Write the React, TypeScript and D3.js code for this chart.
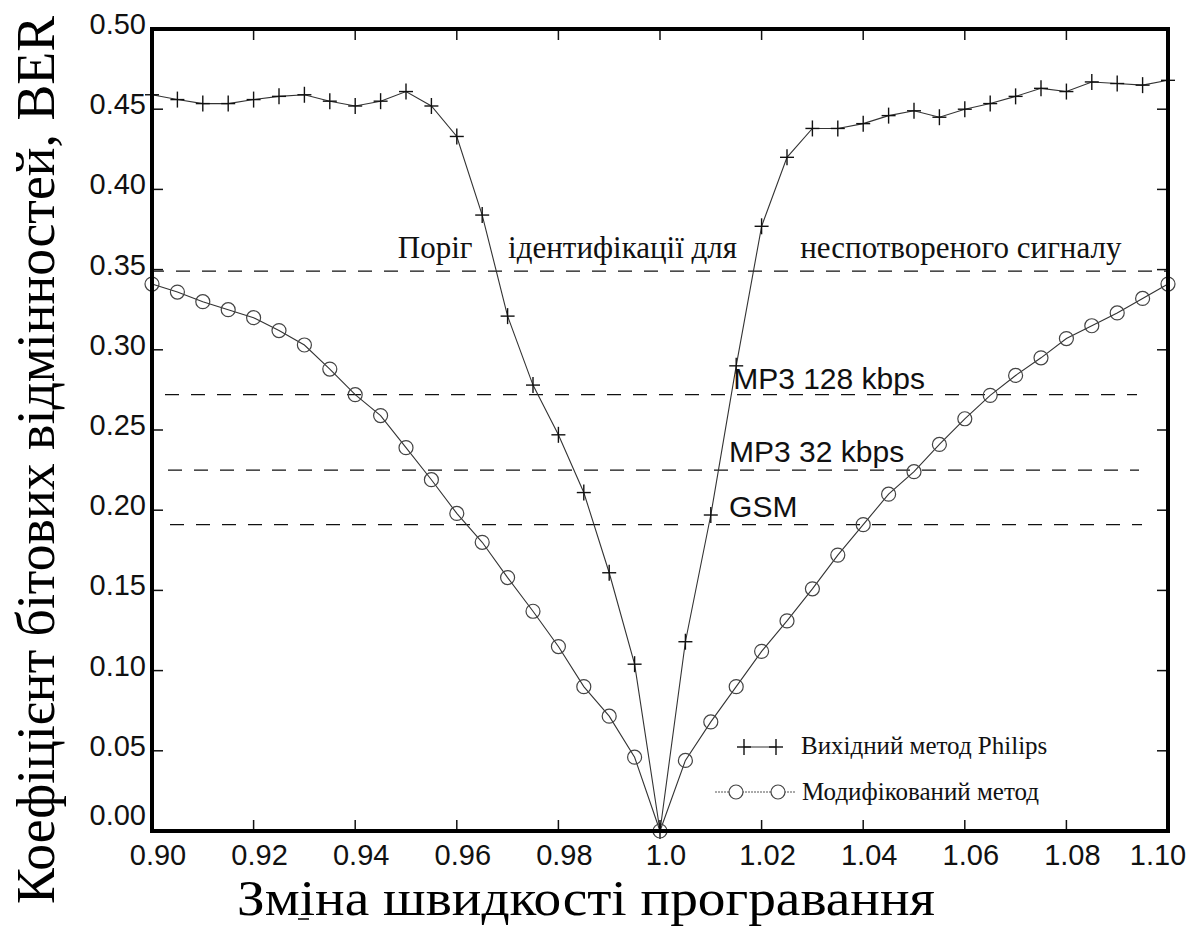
import React from 'react';
import * as d3 from 'd3';

// playback speed change (x) and bit error rate for both methods
const speed = [
  0.9, 0.905, 0.91, 0.915, 0.92, 0.925, 0.93, 0.935, 0.94, 0.945,
  0.95, 0.955, 0.96, 0.965, 0.97, 0.975, 0.98, 0.985, 0.99, 0.995,
  1.0,
  1.005, 1.01, 1.015, 1.02, 1.025, 1.03, 1.035, 1.04, 1.045, 1.05,
  1.055, 1.06, 1.065, 1.07, 1.075, 1.08, 1.085, 1.09, 1.095, 1.1,
];

const philips = [
  0.459, 0.456, 0.4535, 0.4535, 0.456, 0.458, 0.459, 0.455, 0.452, 0.455,
  0.461, 0.452, 0.433, 0.384, 0.321, 0.278, 0.247, 0.211, 0.161, 0.104,
  0,
  0.118, 0.197, 0.29, 0.377, 0.42, 0.438, 0.438, 0.441, 0.446, 0.449,
  0.445, 0.45, 0.4535, 0.458, 0.463, 0.461, 0.467, 0.466, 0.465, 0.468,
];

const modified = [
  0.341, 0.336, 0.33, 0.325, 0.32, 0.312, 0.303, 0.288, 0.272, 0.259,
  0.239, 0.219, 0.198, 0.18, 0.158, 0.137, 0.115, 0.09, 0.0716, 0.046,
  0,
  0.044, 0.068, 0.09, 0.112, 0.131, 0.151, 0.172, 0.191, 0.21, 0.224,
  0.241, 0.257, 0.2716, 0.284, 0.295, 0.307, 0.315, 0.323, 0.332, 0.341,
];

// horizontal threshold levels
const thresholdValues = [0.349, 0.272, 0.225, 0.191];
const thresholdLabels = ['', 'MP3 128 kbps', 'MP3 32 kbps', 'GSM'];
const thresholdTitle = ['Поріг', 'ідентифікації для', 'неспотвореного сигналу'];

const xTicks = [0.9, 0.92, 0.94, 0.96, 0.98, 1.0, 1.02, 1.04, 1.06, 1.08, 1.1];
const xTickLabels = ['0.90', '0.92', '0.94', '0.96', '0.98', '1.0', '1.02', '1.04', '1.06', '1.08', '1.10'];
const yTicks = [0, 0.05, 0.1, 0.15, 0.2, 0.25, 0.3, 0.35, 0.4, 0.45, 0.5];

const legendLabels = ['Вихідний метод Philips', 'Модифікований метод'];

const W = 1199;
const H = 926;
const margin = { top: 29, right: 31, bottom: 95, left: 152 };

const sans = '"Liberation Sans", Arial, sans-serif';
const serif = '"Liberation Serif", "Times New Roman", serif';

const App = () => {
  const x = d3.scaleLinear().domain([0.9, 1.1]).range([margin.left, W - margin.right]);
  const y = d3.scaleLinear().domain([0, 0.5]).range([H - margin.bottom, margin.top]);

  const line = d3.line<number>()
    .x((d, i) => x(speed[i]))
    .y((d) => y(d));

  const x0 = x.range()[0];
  const x1 = x.range()[1];
  const y0 = y.range()[0];
  const y1 = y.range()[1];

  const plus = (cx: number, cy: number, k: string) => (
    <g key={k} stroke="#111" strokeWidth={1.4}>
      <line x1={cx - 7} x2={cx + 7} y1={cy} y2={cy} />
      <line x1={cx} x2={cx} y1={cy - 8} y2={cy + 8} />
    </g>
  );

  // thresholds: first one spans the full width, the others are a bit shorter
  const extents = [[x0 - 2, x1], [x0 + 13, x1 - 31], [x0 + 16, x1 - 29], [x0 + 18, x1 - 26]];
  const labelX = [0, 1.0144, 1.0136, 1.0136];
  const labelDy = [0, -6, -8, -8];
  const titleX = [0.9484, 0.9701, 1.0276];

  const lx = 740;
  const ly = [747, 792];

  return (
    <svg width={W} height={H} style={{ position: 'absolute', left: 0, top: 0, background: '#fff' }}>
      {/* threshold dashed lines */}
      {thresholdValues.map((v, i) => (
        <line key={'t' + i} x1={extents[i][0]} x2={extents[i][1]} y1={y(v)} y2={y(v)}
          stroke="#111" strokeWidth={1.3} strokeDasharray="14,12" />
      ))}
      {thresholdTitle.map((t, i) => (
        <text key={'tt' + i} x={x(titleX[i])} y={y(thresholdValues[0]) - 13}
          fontFamily={serif} fontSize={31} fill="#111">{t}</text>
      ))}
      {thresholdLabels.map((t, i) => t && (
        <text key={'tl' + i} x={x(labelX[i])} y={y(thresholdValues[i]) + labelDy[i]}
          fontFamily={sans} fontSize={30} fill="#111">{t}</text>
      ))}

      {/* series lines */}
      <path d={line(philips) || ''} fill="none" stroke="#333" strokeWidth={1.1} />
      <path d={line(modified) || ''} fill="none" stroke="#333" strokeWidth={1.1} />
      {philips.map((v, i) => plus(x(speed[i]), y(v), 'p' + i))}
      {modified.map((v, i) => (
        <circle key={'m' + i} cx={x(speed[i])} cy={y(v)} r={7} fill="none" stroke="#444" strokeWidth={1.2} />
      ))}

      {/* legend */}
      <line x1={lx + 4} x2={lx + 36} y1={ly[0]} y2={ly[0]} stroke="#333" strokeWidth={1} />
      {plus(lx + 4, ly[0], 'l1')}
      {plus(lx + 36, ly[0], 'l2')}
      <text x={lx + 61} y={ly[0] + 7} fontFamily={serif} fontSize={25} fill="#111">{legendLabels[0]}</text>
      <line x1={lx - 25} x2={lx + 55} y1={ly[1]} y2={ly[1]} stroke="#555" strokeWidth={1} strokeDasharray="2,1" />
      <circle cx={lx - 4} cy={ly[1]} r={7} fill="#fff" stroke="#444" strokeWidth={1.2} />
      <circle cx={lx + 38} cy={ly[1]} r={7} fill="#fff" stroke="#444" strokeWidth={1.2} />
      <text x={lx + 62} y={ly[1] + 8} fontFamily={serif} fontSize={25} fill="#111">{legendLabels[1]}</text>

      {/* ticks on all four sides */}
      {xTicks.map((t, i) => (
        <g key={'xt' + i} stroke="#111" strokeWidth={1.5}>
          <line x1={x(t)} x2={x(t)} y1={y0} y2={y0 - 11} />
          <line x1={x(t)} x2={x(t)} y1={y1} y2={y1 + 11} />
        </g>
      ))}
      {yTicks.map((t, i) => (
        <g key={'yt' + i} stroke="#111" strokeWidth={1.5}>
          <line x1={x0} x2={x0 + 11} y1={y(t)} y2={y(t)} />
          <line x1={x1} x2={x1 - 11} y1={y(t)} y2={y(t)} />
        </g>
      ))}

      {/* frame */}
      <rect x={x0} y={y1} width={x1 - x0} height={y0 - y1} fill="none" stroke="#000" strokeWidth={4} />

      {/* tick labels */}
      {xTicks.map((t, i) => (
        <text key={'xl' + i} x={x(t) + (i === xTicks.length - 1 ? -10 : 6)} y={865}
          textAnchor="middle" fontFamily={sans} fontSize={29} fill="#111">{xTickLabels[i]}</text>
      ))}
      {yTicks.map((t, i) => (
        <text key={'yl' + i} x={x0 - 6} y={y(t) + (i === 0 ? -6 : 5)}
          textAnchor="end" fontFamily={sans} fontSize={29} fill="#111">{d3.format('.2f')(t)}</text>
      ))}

      {/* axis titles */}
      <text x={586} y={915} textAnchor="middle" fontFamily={serif} fontSize={51}
        textLength={698} lengthAdjust="spacingAndGlyphs" fill="#000">
        Зміна швидкості програвання
      </text>
      <line x1={298} x2={309} y1={919} y2={919} stroke="#000" strokeWidth={1.5} />
      <text transform="translate(54,460) rotate(-90)" textAnchor="middle" fontFamily={serif} fontSize={54}
        textLength={888} lengthAdjust="spacingAndGlyphs" fill="#000">
        Коефіцієнт бітових відмінностей, BER
      </text>
    </svg>
  );
};

export default App;
